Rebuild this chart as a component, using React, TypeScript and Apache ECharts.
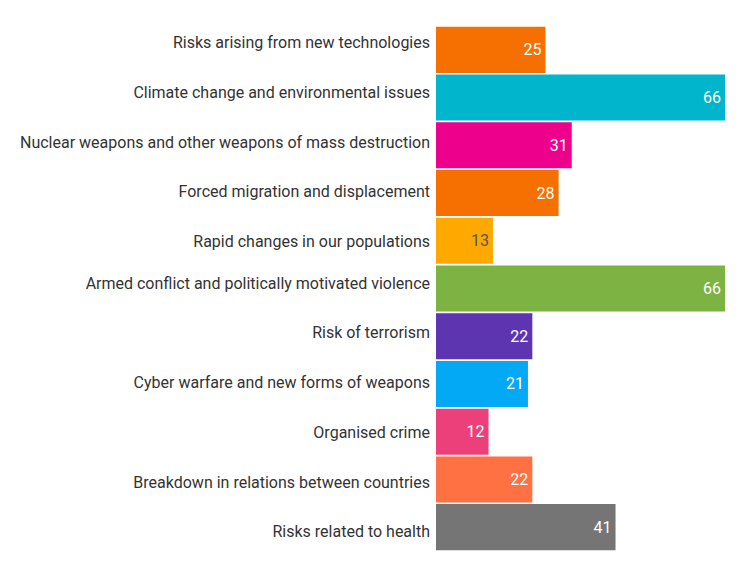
import React, { useEffect, useRef } from "react";
import * as echarts from "echarts";

const categories = [
  "Risks arising from new technologies",
  "Climate change and environmental issues",
  "Nuclear weapons and other weapons of mass destruction",
  "Forced migration and displacement",
  "Rapid changes in our populations",
  "Armed conflict and politically motivated violence",
  "Risk of terrorism",
  "Cyber warfare and new forms of weapons",
  "Organised crime",
  "Breakdown in relations between countries",
  "Risks related to health",
];
const values = [25, 66, 31, 28, 13, 66, 22, 21, 12, 22, 41];
const colors = [
  "#F57000",
  "#00B5CC",
  "#EC008C",
  "#F57000",
  "#FFA800",
  "#7CB342",
  "#5E35B1",
  "#03A9F4",
  "#EC407A",
  "#FF7043",
  "#757575",
];
const labelColors = [
  "#fff", "#fff", "#fff", "#fff", "#555", "#fff", "#fff", "#fff", "#fff", "#fff", "#fff",
];
// vertical shift (px) of each category label relative to its bar centre (negative = up)
const labelShift = [-7, -5, -2.5, -1.5, 1, -5, -3.5, -1, 1, 3.5, 4.5];

export default function App() {
  const ref = useRef<HTMLDivElement>(null);
  useEffect(() => {
    if (!ref.current) return;
    const chart = echarts.init(ref.current, undefined, { renderer: "svg" });
    const rich: Record<string, any> = {};
    labelShift.forEach((s, i) => {
      const p = Math.abs(s) * 2;
      rich["l" + i] = {
        color: "#333",
        fontFamily: "Roboto",
        fontSize: 16,
        padding: s < 0 ? [0, 0, p, 0] : [p, 0, 0, 0],
      };
    });
    chart.setOption({
      animation: false,
      grid: { left: 436, right: 27, top: 26, bottom: 23, containLabel: false },
      xAxis: {
        type: "value",
        min: 0,
        max: 66,
        show: false,
      },
      yAxis: {
        type: "category",
        data: categories,
        inverse: true,
        axisLine: { show: false },
        axisTick: { show: false },
        splitLine: { show: false },
        axisLabel: {
          color: "#333",
          fontFamily: "Roboto",
          fontSize: 16,
          margin: 6,
          formatter: (v: string, i: number) => `{l${i}|${v}}`,
          rich,
        },
      },
      series: [
        {
          type: "bar",
          barCategoryGap: "3.5%",
          data: values.map((v, i) => ({
            value: v,
            itemStyle: { color: colors[i] },
            label: { color: labelColors[i] },
          })),
          label: {
            show: true,
            position: "insideRight",
            fontFamily: "Roboto",
            fontSize: 16,
            distance: 4,
          },
        },
      ],
    });
    return () => chart.dispose();
  }, []);
  return (
    <div
      ref={ref}
      style={{ position: "absolute", left: 0, top: 0, width: 752, height: 574 }}
    />
  );
}
